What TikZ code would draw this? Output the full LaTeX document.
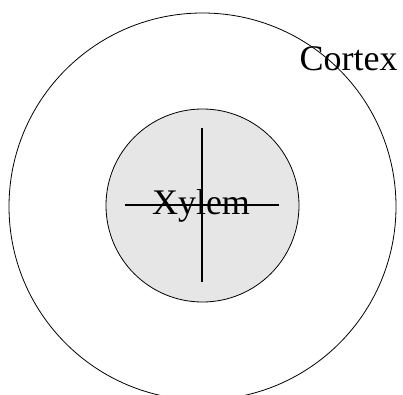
\documentclass[tikz,border=0pt]{standalone}
\usepackage{fontspec}
\setmainfont{Liberation Serif}
\begin{document}
\begin{tikzpicture}[x=1pt,y=1pt,
  ring/.style={circle, draw=black, line width=0.8pt, inner sep=0pt},
  crossline/.style={draw=black, line width=1.8pt},
  lbl/.style={font=\fontsize{36}{40}\selectfont, inner sep=0pt, anchor=base}]
\useasboundingbox (0,0) rectangle (403,394);
\clip (0,0) rectangle (403,394);
\node[ring, minimum size=387pt] (cortexring) at (202.5,187.5) {};
\node[ring, fill={rgb,255:red,230;green,230;blue,230}, minimum size=193pt] (xylemring) at (202.5,188.5) {};
\coordinate (hl) at (125,189);
\coordinate (hr) at (279,189);
\coordinate (vt) at (202,266);
\coordinate (vb) at (202,112);
\node[lbl] (xylem) at (201,180) {Xylem};
\draw[crossline] (hl) -- (hr);
\draw[crossline] (vt) -- (vb);
\node[lbl] (cortex) at (348.5,323.3) {Cortex};
\end{tikzpicture}
\end{document}
